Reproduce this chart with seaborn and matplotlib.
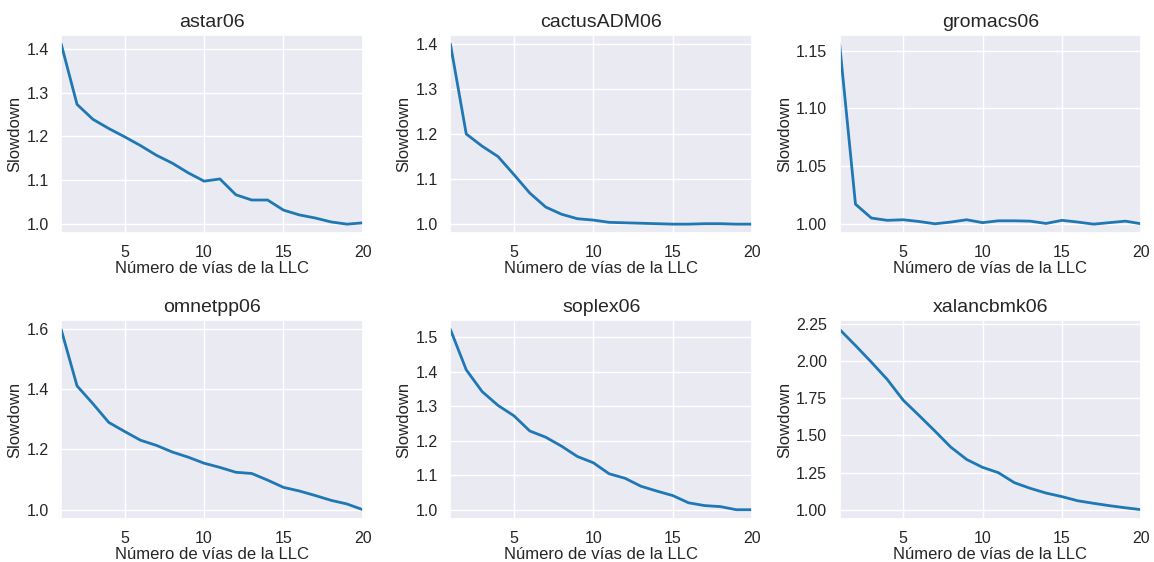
import matplotlib
matplotlib.use("Agg")
import matplotlib.pyplot as plt
import pandas as pd
import seaborn as sns

ways = list(range(1, 21))

benchmarks = ["astar06", "cactusADM06", "gromacs06", "omnetpp06", "soplex06", "xalancbmk06"]

astar06 = [1.411, 1.273, 1.239, 1.218, 1.199, 1.179, 1.157, 1.139, 1.117, 1.098,
           1.103, 1.067, 1.055, 1.055, 1.032, 1.021, 1.014, 1.005, 1.000, 1.003]
cactusADM06 = [1.400, 1.200, 1.173, 1.150, 1.110, 1.069, 1.038, 1.022, 1.012, 1.009,
               1.004, 1.003, 1.002, 1.001, 1.000, 1.000, 1.001, 1.001, 1.000, 1.000]
gromacs06 = [1.156, 1.017, 1.005, 1.003, 1.0035, 1.002, 1.000, 1.0015, 1.0035, 1.001,
             1.0026, 1.0026, 1.0023, 1.0003, 1.003, 1.0015, 0.9997, 1.001, 1.0023, 1.000]
omnetpp06 = [1.597, 1.410, 1.351, 1.289, 1.259, 1.230, 1.213, 1.191, 1.174, 1.154,
             1.140, 1.124, 1.120, 1.098, 1.074, 1.062, 1.047, 1.031, 1.019, 1.000]
soplex06 = [1.522, 1.405, 1.342, 1.302, 1.272, 1.228, 1.210, 1.184, 1.154, 1.136,
            1.104, 1.091, 1.068, 1.054, 1.041, 1.020, 1.012, 1.009, 1.000, 1.000]
xalancbmk06 = [2.212, 2.104, 1.992, 1.876, 1.737, 1.634, 1.529, 1.421, 1.338, 1.285,
               1.249, 1.182, 1.144, 1.112, 1.088, 1.060, 1.043, 1.027, 1.013, 1.000]

series = [astar06, cactusADM06, gromacs06, omnetpp06, soplex06, xalancbmk06]

sns.set_theme(style="darkgrid")
plt.rcParams["font.family"] = ["Liberation Sans", "DejaVu Sans"]

fig, axes = plt.subplots(2, 3, figsize=(11.54, 5.62), dpi=100)

for ax, name, values in zip(axes.flat, benchmarks, series):
    df = pd.DataFrame({"ways": ways, "slowdown": values})
    sns.lineplot(data=df, x="ways", y="slowdown", ax=ax, color="#1f77b4", linewidth=2)
    ax.set_xlim(1, 20)
    ax.set_xticks([5, 10, 15, 20])
    ax.set_title(name, fontsize=14)
    ax.set_xlabel("Número de vías de la LLC", fontsize=12, labelpad=1)
    ax.set_ylabel("Slowdown", fontsize=12, labelpad=3)
    ax.tick_params(axis="x", labelsize=11.5, pad=2.5)
    ax.tick_params(axis="y", labelsize=11.5, pad=3)

fig.subplots_adjust(left=0.053, right=0.989, top=0.938, bottom=0.077,
                    wspace=0.29, hspace=0.44)
plt.savefig("out.png", dpi=100)
plt.close()
